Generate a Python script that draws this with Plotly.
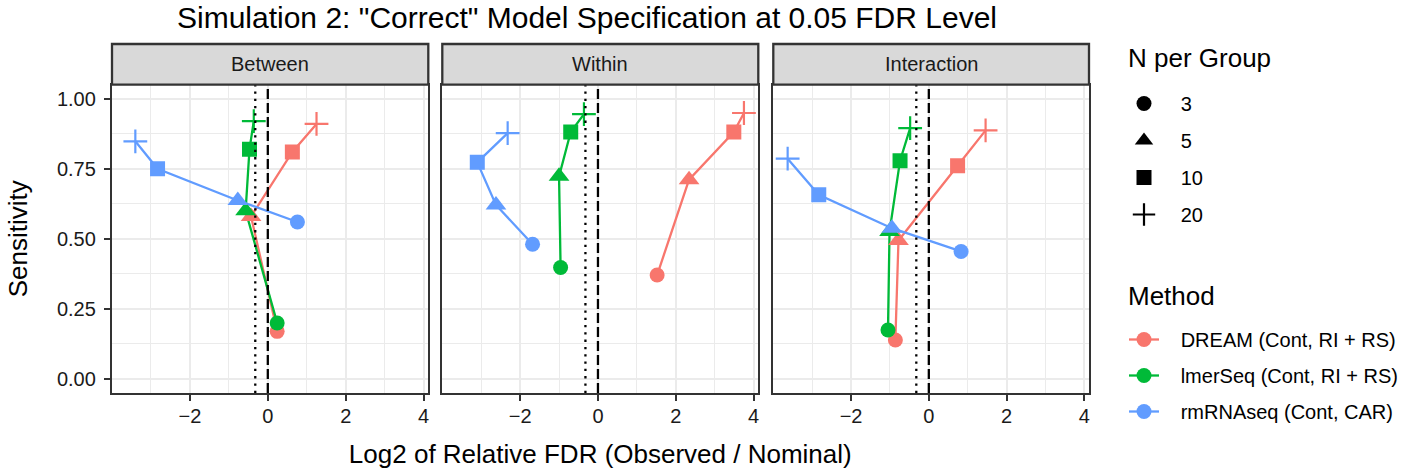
import math
import plotly.graph_objects as go

# ---------------- data ----------------
panels = ["Between", "Within", "Interaction"]
methods = ["DREAM (Cont, RI + RS)", "lmerSeq (Cont, RI + RS)", "rmRNAseq (Cont, CAR)"]
n_per_group = [3, 5, 10, 20]

# Log2 of relative FDR (x) and sensitivity (y), ordered by N = 3, 5, 10, 20
between_dream_x = [0.24, -0.43, 0.63, 1.25]
between_dream_y = [0.17, 0.58, 0.81, 0.91]
between_lmerseq_x = [0.24, -0.57, -0.47, -0.36]
between_lmerseq_y = [0.20, 0.60, 0.82, 0.92]
between_rmrnaseq_x = [0.76, -0.77, -2.83, -3.40]
between_rmrnaseq_y = [0.56, 0.637, 0.75, 0.848]

within_dream_x = [1.52, 2.34, 3.49, 3.75]
within_dream_y = [0.371, 0.711, 0.881, 0.949]
within_lmerseq_x = [-0.96, -1.00, -0.70, -0.36]
within_lmerseq_y = [0.398, 0.723, 0.881, 0.945]
within_rmrnaseq_x = [-1.68, -2.62, -3.10, -2.32]
within_rmrnaseq_y = [0.481, 0.621, 0.773, 0.877]

interaction_dream_x = [-0.86, -0.78, 0.74, 1.46]
interaction_dream_y = [0.139, 0.494, 0.761, 0.887]
interaction_lmerseq_x = [-1.05, -1.01, -0.74, -0.48]
interaction_lmerseq_y = [0.175, 0.526, 0.779, 0.895]
interaction_rmrnaseq_x = [0.83, -0.95, -2.83, -3.63]
interaction_rmrnaseq_y = [0.455, 0.538, 0.657, 0.786]

# reference lines: nominal (0) and log2(0.8)
ref_dashed = [0.0]
ref_dotted = [math.log2(0.8)]

x_ticks = [-4, -2, 0, 2, 4]
y_ticks = [0.0, 0.25, 0.5, 0.75, 1.0]
y_tick_labels = ["0.00", "0.25", "0.50", "0.75", "1.00"]

# ---------------- styling ----------------
colors = ["#F8766D", "#00BA38", "#619CFF"]
symbol_of = {3: "circle", 5: "triangle-up", 10: "square", 20: "cross-thin"}
size_of = {3: 15, 5: 18, 10: 15, 20: 17}
lw_of = {3: 0, 5: 0, 10: 0, 20: 2.2}
FONT = "Liberation Sans, Arial, Helvetica, sans-serif"
GRID = "#EBEBEB"
BORDER = "#333333"
TEXT = "#1A1A1A"
LW = 2.3

data = {
    "Between": [(between_dream_x, between_dream_y), (between_lmerseq_x, between_lmerseq_y),
                (between_rmrnaseq_x, between_rmrnaseq_y)],
    "Within": [(within_dream_x, within_dream_y), (within_lmerseq_x, within_lmerseq_y),
               (within_rmrnaseq_x, within_rmrnaseq_y)],
    "Interaction": [(interaction_dream_x, interaction_dream_y), (interaction_lmerseq_x, interaction_lmerseq_y),
                    (interaction_rmrnaseq_x, interaction_rmrnaseq_y)],
}

# x range: data range expanded by 5% (ggplot default)
all_x = [v for p in panels for (xs, _) in data[p] for v in xs]
xmin, xmax = min(all_x), max(all_x)
pad = 0.05 * (xmax - xmin)
x_range = [xmin - pad, xmax + pad]
y_range = [-0.05, 1.05]

W, H = 1417, 470
ml, mr, mt, mb = 112, 328, 44, 77
pw, ph = W - ml - mr, H - mt - mb
panel_top_px = 84.7
panel_top = (H - mb - panel_top_px) / ph
x_domains = [[0.0, (428.3 - ml) / pw], [(442.3 - ml) / pw, (758.3 - ml) / pw], [(773.3 - ml) / pw, 1.0]]


def py(px):
    """pixel row -> paper y"""
    return (H - mb - px) / ph


def pxx(px):
    """pixel column -> paper x"""
    return (px - ml) / pw


fig = go.Figure()

# lines first
for i, p in enumerate(panels):
    xa = "x" if i == 0 else f"x{i+1}"
    ya = "y" if i == 0 else f"y{i+1}"
    for m, (xs, ys) in enumerate(data[p]):
        fig.add_trace(go.Scatter(x=xs, y=ys, mode="lines", xaxis=xa, yaxis=ya,
                                 line=dict(color=colors[m], width=LW), showlegend=False,
                                 hoverinfo="skip"))
# then points
for i, p in enumerate(panels):
    xa = "x" if i == 0 else f"x{i+1}"
    ya = "y" if i == 0 else f"y{i+1}"
    for m, (xs, ys) in enumerate(data[p]):
        fig.add_trace(go.Scatter(
            x=xs, y=ys, mode="markers", xaxis=xa, yaxis=ya, showlegend=False,
            name=methods[m],
            marker=dict(color=colors[m], opacity=1,
                        symbol=[symbol_of[n] for n in n_per_group],
                        size=[size_of[n] for n in n_per_group],
                        line=dict(color=colors[m], width=[lw_of[n] for n in n_per_group]))))

# legend 1: N per Group (shapes)
NB = "\u00a0\u00a0\u00a0"
for n in n_per_group:
    fig.add_trace(go.Scatter(
        x=[None], y=[None], mode="markers", name=NB + str(n), legend="legend",
        legendgroup=f"n{n}",
        marker=dict(color="black", symbol=symbol_of[n], size=size_of[n], opacity=1,
                    line=dict(color="black", width=lw_of[n]))))
# legend 2: Method
for m, meth in enumerate(methods):
    fig.add_trace(go.Scatter(
        x=[None], y=[None], mode="lines+markers", name=NB + meth, legend="legend2",
        legendgroup=f"m{m}",
        line=dict(color=colors[m], width=LW),
        marker=dict(color=colors[m], symbol="circle", size=15, opacity=1)))

# reference lines + strips
shapes = []
annotations = []
for i, p in enumerate(panels):
    xa = "x" if i == 0 else f"x{i+1}"
    ya = "y" if i == 0 else f"y{i+1}"
    for v in ref_dashed:
        shapes.append(dict(type="line", xref=xa, yref=f"{ya} domain", x0=v, x1=v, y0=0, y1=1,
                           line=dict(color="black", width=LW, dash="10px,4px"), layer="above"))
    for v in ref_dotted:
        shapes.append(dict(type="line", xref=xa, yref=f"{ya} domain", x0=v, x1=v, y0=0, y1=1,
                           line=dict(color="black", width=LW, dash="2.3px,5px"), layer="above"))
    shapes.append(dict(type="rect", xref=f"{xa} domain", yref="paper", x0=0, x1=1,
                       y0=panel_top, y1=1.0, fillcolor="#D9D9D9",
                       line=dict(color=BORDER, width=LW), layer="above"))
    annotations.append(dict(text=p, xref=f"{xa} domain", yref="paper", x=0.5,
                            y=(panel_top + 1.0) / 2, showarrow=False,
                            font=dict(size=20, color=TEXT, family=FONT),
                            xanchor="center", yanchor="middle"))

# legend titles
annotations.append(dict(text="N per Group", xref="paper", yref="paper", x=pxx(1126), y=py(58),
                        xanchor="left", yanchor="middle", showarrow=False,
                        font=dict(size=26, color="black", family=FONT)))
annotations.append(dict(text="Method", xref="paper", yref="paper", x=pxx(1126), y=py(296),
                        xanchor="left", yanchor="middle", showarrow=False,
                        font=dict(size=26, color="black", family=FONT)))

layout = dict(
    width=W, height=H,
    margin=dict(l=ml, r=mr, t=mt, b=mb, autoexpand=False),
    paper_bgcolor="white", plot_bgcolor="white",
    font=dict(family=FONT, color="black"),
    title=dict(text='Simulation 2: "Correct" Model Specification at 0.05 FDR Level',
               x=pxx(587), xref="paper", xanchor="center", y=1 - 17 / H, yanchor="middle",
               font=dict(size=30, color="black", family=FONT)),
    shapes=shapes, annotations=annotations,
    legend=dict(x=pxx(1124), xanchor="left", y=py(84), yanchor="top",
                font=dict(size=20, color="black"), tracegroupgap=8,
                traceorder="grouped", bgcolor="rgba(0,0,0,0)", itemclick=False),
    legend2=dict(x=pxx(1124), xanchor="left", y=py(320), yanchor="top",
                 font=dict(size=20, color="black"), tracegroupgap=7,
                 traceorder="grouped", bgcolor="rgba(0,0,0,0)", itemclick=False),
)

for i in range(3):
    xk = "xaxis" if i == 0 else f"xaxis{i+1}"
    yk = "yaxis" if i == 0 else f"yaxis{i+1}"
    ya = "y" if i == 0 else f"y{i+1}"
    xa = "x" if i == 0 else f"x{i+1}"
    layout[xk] = dict(domain=x_domains[i], range=x_range, anchor=ya, tickvals=x_ticks,
                      showgrid=True, gridcolor=GRID, gridwidth=LW, zeroline=False,
                      showline=True, linecolor=BORDER, linewidth=LW, mirror=True,
                      ticks="outside", ticklen=6, tickwidth=LW, tickcolor=BORDER,
                      tickfont=dict(size=20, color=TEXT), ticklabelstandoff=-2,
                      minor=dict(tickvals=[-3, -1, 1, 3], showgrid=True, gridcolor=GRID,
                                 gridwidth=LW / 2, ticks=""),
                      fixedrange=True)
    layout[yk] = dict(domain=[0, panel_top], range=y_range, anchor=xa, tickvals=y_ticks,
                      ticktext=y_tick_labels,
                      showgrid=True, gridcolor=GRID, gridwidth=LW, zeroline=False,
                      showline=True, linecolor=BORDER, linewidth=LW, mirror=True,
                      ticks="outside" if i == 0 else "", ticklen=6, tickwidth=LW,
                      tickcolor=BORDER, showticklabels=(i == 0),
                      tickfont=dict(size=20, color=TEXT), ticklabelstandoff=4,
                      minor=dict(tickvals=[0.125, 0.375, 0.625, 0.875], showgrid=True,
                                 gridcolor=GRID, gridwidth=LW / 2, ticks=""),
                      fixedrange=True)

layout["xaxis2"]["title"] = dict(text="Log2 of Relative FDR (Observed / Nominal)",
                                 font=dict(size=26, color="black"), standoff=19)
layout["yaxis"]["title"] = dict(text="Sensitivity", font=dict(size=26, color="black"),
                                standoff=22)

fig.update_layout(**layout)
fig.write_html("out.html", post_script="document.body.style.margin='0px';",
               config={"displayModeBar": False})
